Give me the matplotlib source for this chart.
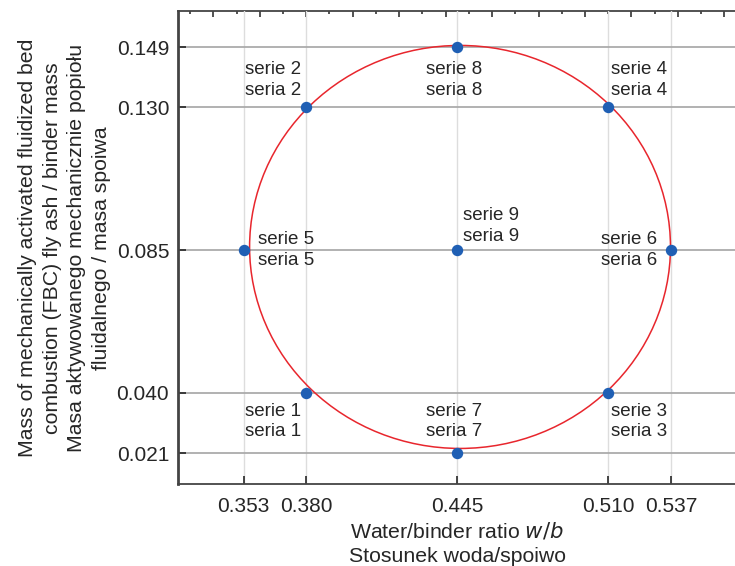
import numpy as np
import matplotlib
matplotlib.use("Agg")
import matplotlib.pyplot as plt
from matplotlib.patches import Ellipse
from matplotlib.ticker import MultipleLocator, NullFormatter

plt.rcParams["font.family"] = ["Liberation Sans", "DejaVu Sans"]

# design points (w/b ratio, FBC ash / binder mass)
series = [1, 2, 3, 4, 5, 6, 7, 8, 9]
wb = [0.380, 0.380, 0.510, 0.510, 0.353, 0.537, 0.445, 0.445, 0.445]
ash = [0.040, 0.130, 0.040, 0.130, 0.085, 0.085, 0.021, 0.149, 0.085]

x_ticks = [0.353, 0.380, 0.445, 0.510, 0.537]
y_ticks = [0.021, 0.040, 0.085, 0.130, 0.149]

# label anchor per series: (x, y, horizontal alignment)
label_pos = {
    1: (0.3778, 0.0310, "right"),
    2: (0.3778, 0.1387, "right"),
    3: (0.5110, 0.0310, "left"),
    4: (0.5110, 0.1387, "left"),
    5: (0.3592, 0.0849, "left"),
    6: (0.5311, 0.0849, "right"),
    7: (0.4437, 0.0310, "center"),
    8: (0.4437, 0.1387, "center"),
    9: (0.4476, 0.0927, "left"),
}

# design region boundary
ell_center = (0.4462, 0.0860)
ell_w, ell_h = 2 * 0.0906, 2 * 0.0635

fig = plt.figure(figsize=(7.35, 5.66), dpi=100)
ax = fig.add_axes([0.2416, 0.1449, 0.761, 0.8348])

ax.set_xlim(0.3246, 0.5654)
ax.set_ylim(0.0113, 0.1602)

for x in x_ticks:
    ax.axvline(x, color="#dddddd", lw=1.0, zorder=1)
for y in y_ticks:
    ax.axhline(y, color="#ababab", lw=1.3, zorder=1)

ax.add_patch(Ellipse(ell_center, ell_w, ell_h, fill=False,
                     edgecolor="#e8262d", lw=1.1, zorder=2))

ax.plot(wb, ash, "o", color="#1f5fb4", ms=7.2, zorder=3)

for s in series:
    lx, ly, ha = label_pos[s]
    ax.text(lx, ly, f"serie {s}\nseria {s}", ha=ha, va="center",
            fontsize=13.5, color="#262626", linespacing=1.3, zorder=4)

ax.set_xticks(x_ticks)
ax.set_xticklabels([f"{v:.3f}" for v in x_ticks])
ax.set_yticks(y_ticks)
ax.set_yticklabels([f"{v:.3f}" for v in y_ticks])
ax.tick_params(direction="in", length=6, width=1.2, labelsize=15,
               colors="#262626", top=False, right=False)
ax.tick_params(axis="x", pad=9.5)
ax.tick_params(axis="y", pad=6)

# unlabelled ticks along the top edge
top = ax.secondary_xaxis("top")
top.xaxis.set_major_locator(MultipleLocator(0.02))
top.xaxis.set_minor_locator(MultipleLocator(0.01))
top.xaxis.set_major_formatter(NullFormatter())
top.tick_params(which="major", direction="in", length=4, width=1.2, color="#333333")
top.tick_params(which="minor", direction="in", length=2.5, width=1.2, color="#333333")
top.spines["top"].set_color("#444444")
top.spines["top"].set_linewidth(1.3)

ax.spines["left"].set_color("#444444")
ax.spines["left"].set_linewidth(2.0)
ax.spines["bottom"].set_color("#444444")
ax.spines["bottom"].set_linewidth(1.3)
ax.spines["top"].set_visible(False)
ax.spines["right"].set_visible(False)

ax.set_xlabel("Water/binder ratio $\\mathit{w/b}$\nStosunek woda/spoiwo",
              fontsize=15.3, color="#262626", linespacing=1.35, labelpad=3)
ax.set_ylabel("Mass of mechanically activated fluidized bed\n"
              "combustion (FBC) fly ash / binder mass\n"
              "Masa aktywowanego mechanicznie popiołu\n"
              "fluidalnego / masa spoiwa",
              fontsize=15.3, color="#262626", linespacing=1.38, labelpad=4)

fig.savefig("out.png", dpi=100)
